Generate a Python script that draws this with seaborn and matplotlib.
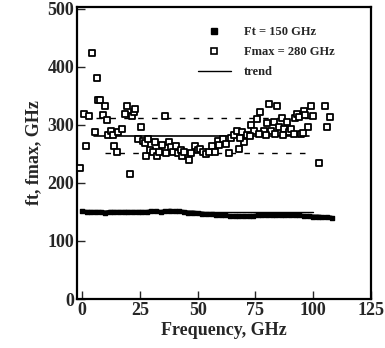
import matplotlib
matplotlib.use("Agg")
import matplotlib.pyplot as plt
import seaborn as sns
import pandas as pd
from matplotlib.lines import Line2D

# ---- data ----
fmax_freq = [-0.9, 0.9, 1.7, 3.1, 4.3, 5.4, 6.6, 7.1, 7.7, 8.9, 10.0, 10.6, 11.4, 12.6,
             13.4, 14.0, 14.9, 15.7, 17.1, 18.6, 19.4, 20.9, 21.4, 22.3, 23.1, 24.0,
             25.4, 26.3, 27.1, 27.7, 28.6, 29.4, 30.6, 31.4, 32.6, 33.4, 34.6, 35.7,
             36.3, 37.7, 38.6, 39.4, 40.6, 41.4, 42.6, 43.4, 44.3, 46.3, 47.1, 48.9,
             50.0, 51.1, 52.3, 53.4, 54.9, 56.3, 57.4, 58.6, 59.4, 60.9, 62.3, 63.4,
             64.6, 65.7, 66.9, 67.7, 69.1, 70.0, 71.4, 73.1, 74.3, 75.7, 77.1, 78.6,
             80.0, 80.9, 81.7, 82.9, 84.3, 85.1, 86.6, 87.4, 88.6, 89.4, 90.6, 92.0,
             93.1, 94.0, 94.9, 96.0, 96.6, 97.7, 98.9, 99.7, 102.3, 104.9, 106.0, 107.1,
             76.5, 79.5, 83.5, 87.0, 91.5, 95.5, 72.5, 68.5]
fmax_vals = [226, 319, 263, 316, 424, 287, 381, 343, 342, 317, 333, 309, 282, 289,
             282, 264, 253, 287, 293, 319, 333, 216, 316, 322, 328, 276,
             296, 273, 269, 247, 276, 256, 253, 270, 246, 254, 266, 315,
             252, 270, 261, 254, 264, 252, 257, 247, 253, 239, 251, 264,
             256, 259, 253, 249, 254, 264, 253, 273, 266, 275, 267, 252,
             277, 282, 289, 259, 287, 271, 282, 300, 290, 310, 322, 289,
             303, 336, 290, 305, 332, 296, 311, 292, 305, 287, 293, 311,
             319, 313, 284, 323, 317, 296, 333, 315, 234, 333, 296, 313,
             284, 282, 285, 283, 284, 286, 280, 278]

ft_freq = [0, 2, 4, 6, 8, 10, 12, 14, 16, 18, 20, 22, 24, 26, 28, 30, 32, 34, 36, 38,
           40, 42, 44, 46, 48, 50, 52, 54, 56, 58, 60, 62, 64, 66, 68, 70, 72, 74, 76,
           78, 80, 82, 84, 86, 88, 90, 92, 94, 96, 98, 100, 102, 104, 106, 108]
ft_vals = [151, 150, 150, 150, 150, 149, 150, 150, 150, 150, 150, 150, 150, 150, 150,
           151, 151, 150, 151, 152, 151, 151, 150, 149, 149, 148, 147, 146, 146, 145,
           145, 144, 143, 143, 143, 143, 143, 143, 144, 144, 144, 144, 144, 145, 144,
           144, 144, 144, 143, 143, 142, 142, 141, 141, 140]

trend_fmax_x = [5, 98]
trend_fmax_y = [280, 280]
upper_x = [6, 100]
upper_y = [311, 311]
lower_x = [10, 98]
lower_y = [251, 251]
trend_ft_x = [0, 100]
trend_ft_y = [150, 150]

x_ticks = [0, 25, 50, 75, 100, 125]
y_ticks = [0, 100, 200, 300, 400, 500]

# ---- plot ----
sns.set_style("white")
plt.rcParams['font.family'] = ['Liberation Serif', 'DejaVu Serif']
plt.rcParams['font.weight'] = 'bold'

fig = plt.figure(figsize=(3.85, 3.48), dpi=100)
ax = fig.add_axes([77/385, 1-299/348, (371-77)/385, (299-7)/348])

df_fmax = pd.DataFrame({"f": fmax_freq, "v": fmax_vals})
df_ft = pd.DataFrame({"f": ft_freq, "v": ft_vals})

sns.lineplot(x=trend_ft_x, y=trend_ft_y, ax=ax, color="black", linewidth=1.0)
sns.scatterplot(data=df_ft, x="f", y="v", ax=ax, marker="s", s=11,
                color="black", edgecolor="black", linewidth=1.0)
sns.lineplot(data=df_ft, x="f", y="v", ax=ax, color="black", linewidth=3.0)

sns.lineplot(x=trend_fmax_x, y=trend_fmax_y, ax=ax, color="black", linewidth=1.2)
sns.lineplot(x=upper_x, y=upper_y, ax=ax, color="black", linewidth=1.0,
             linestyle=(0, (4, 6)))
sns.lineplot(x=lower_x, y=lower_y, ax=ax, color="black", linewidth=1.0,
             linestyle=(0, (4, 6)))
sns.scatterplot(data=df_fmax, x="f", y="v", ax=ax, marker="s", s=18,
                facecolor="white", edgecolor="black", linewidth=1.3, zorder=3)

ax.set_xlim(-2.2, 125)
ax.set_ylim(0, 503)
ax.set_xticks(x_ticks)
ax.set_yticks(y_ticks)
ax.set_xticklabels([str(t) for t in x_ticks], fontsize=13, fontweight='bold')
ax.set_yticklabels([str(t) for t in y_ticks], fontsize=13, fontweight='bold')
ax.tick_params(direction="in", length=6, width=1.0, pad=2, left=True, bottom=True)
ax.set_xlabel("Frequency, GHz", fontsize=13, fontweight='bold', labelpad=2)
ax.set_ylabel("ft, fmax, GHz", fontsize=13, fontweight='bold', labelpad=4)
for sp in ax.spines.values():
    sp.set_visible(True)
    sp.set_color("black")
    sp.set_linewidth(1.6)

handles = [
    Line2D([], [], marker="s", linestyle="none", markersize=4.5,
           markerfacecolor="black", markeredgecolor="black"),
    Line2D([], [], marker="s", linestyle="none", markersize=5,
           markerfacecolor="white", markeredgecolor="black", markeredgewidth=1.2),
    Line2D([], [], color="black", linewidth=1.0),
]
labels = ["Ft = 150 GHz", "Fmax = 280 GHz", "trend"]
ax.legend(handles, labels, loc="upper left", bbox_to_anchor=(0.41, 0.935),
          frameon=False, prop={'family': 'Liberation Serif', 'weight': 'bold', 'size': 9},
          handlelength=2.7, handletextpad=1.0, labelspacing=0.65,
          borderpad=0, borderaxespad=0)

fig.savefig("out.png", dpi=100)
